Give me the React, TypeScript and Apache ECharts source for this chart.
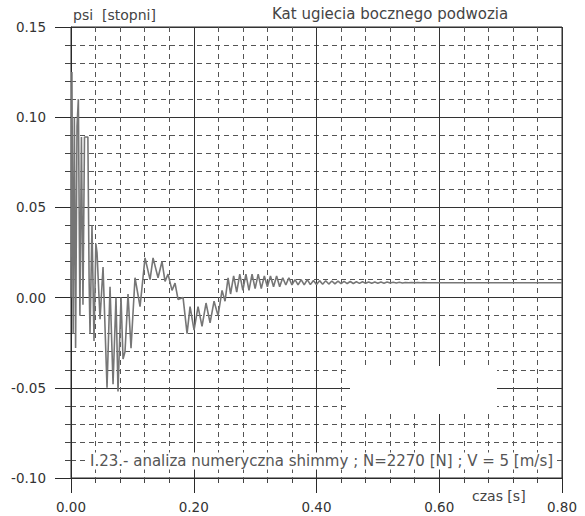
import React, { useEffect, useRef } from "react";
import * as echarts from "echarts";

const xTicks = [0, 0.2, 0.4, 0.6, 0.8];
const yTicks = [-0.1, -0.05, 0, 0.05, 0.1, 0.15];

const timeS = [
  0.0, 0.0015, 0.0035, 0.0055, 0.0075, 0.0098, 0.012, 0.0145, 0.017, 0.0195,
  0.022, 0.0275, 0.0295, 0.031, 0.0342, 0.0375, 0.0405, 0.0424, 0.0473, 0.0522,
  0.0587, 0.0636, 0.0685, 0.0733, 0.0766, 0.0815, 0.0848, 0.088, 0.0929, 0.0978,
  0.1043, 0.1125, 0.1206, 0.1288, 0.1337, 0.1418, 0.1483, 0.1532, 0.1581, 0.1646,
  0.1695, 0.1744, 0.1826, 0.1891, 0.194, 0.2005, 0.207, 0.2135, 0.22, 0.2266,
  0.2331, 0.2396, 0.2461, 0.251, 0.2559,
  0.26, 0.265, 0.27, 0.275, 0.28, 0.285, 0.29, 0.295, 0.3, 0.305,
  0.31, 0.315, 0.32, 0.325, 0.33, 0.335, 0.34, 0.345, 0.35, 0.355,
  0.36, 0.365, 0.37, 0.375, 0.38, 0.385, 0.39, 0.395, 0.4, 0.405,
  0.41, 0.415, 0.42, 0.425, 0.43, 0.435, 0.44, 0.445, 0.45, 0.455,
  0.46, 0.465, 0.47, 0.475, 0.48, 0.485, 0.49, 0.495, 0.5, 0.505,
  0.51, 0.515, 0.52, 0.525, 0.53, 0.535, 0.54, 0.545, 0.55, 0.555,
  0.56, 0.565, 0.57, 0.575, 0.58, 0.6, 0.8,
];

const psiDeg = [
  0.0, 0.125, -0.02, 0.1, -0.028, 0.095, 0.11, -0.01, 0.089, -0.004,
  0.089, 0.089, 0.01, -0.02, 0.04, -0.024, 0.03, 0.025, -0.012, 0.017,
  -0.05, 0.006, -0.048, 0.0, -0.052, 0.0, -0.034, -0.03, 0.002, -0.028,
  0.011, -0.005, 0.022, 0.01, 0.022, 0.011, 0.02, 0.009, 0.013, 0.004,
  0.008, -0.001, 0.0, -0.02, -0.005, -0.018, -0.005, -0.016, -0.003, -0.014,
  -0.002, -0.01, 0.004, -0.002, 0.011,
  0.002, 0.012, 0.003, 0.013, 0.004, 0.013, 0.004, 0.013, 0.005, 0.013,
  0.005, 0.012, 0.006, 0.012, 0.006, 0.012, 0.006, 0.011, 0.007, 0.011,
  0.007, 0.01, 0.007, 0.01, 0.007, 0.01, 0.0072, 0.0095, 0.0073, 0.0094,
  0.0074, 0.0093, 0.0075, 0.0092, 0.0076, 0.0091, 0.0077, 0.009, 0.0078, 0.0089,
  0.0078, 0.0088, 0.0079, 0.0088, 0.0079, 0.0087, 0.008, 0.0087, 0.008, 0.0086,
  0.008, 0.0086, 0.0081, 0.0085, 0.0081, 0.0085, 0.0081, 0.0084, 0.0082, 0.0084,
  0.0082, 0.0083, 0.0082, 0.0083, 0.0082, 0.0082, 0.0082,
];

const yAxisTitle = "psi  [stopni]";
const chartTitle = "Kat ugiecia bocznego podwozia";
const xAxisTitle = "czas [s]";
const note = "I.23.- analiza numeryczna shimmy ; N=2270 [N] ; V = 5 [m/s]";

export default function App() {
  const ref = useRef<HTMLDivElement>(null);
  useEffect(() => {
    if (!ref.current) return;
    const chart = echarts.init(ref.current, undefined, { renderer: "svg" });
    const font = "DejaVu Sans";
    chart.setOption({
      animation: false,
      backgroundColor: "#ffffff",
      grid: {
        left: 71,
        right: 23,
        top: 27,
        bottom: 38,
        show: true,
        borderColor: "#2a2a2a",
        borderWidth: 1,
      },
      xAxis: {
        type: "value",
        min: xTicks[0],
        max: xTicks[xTicks.length - 1],
        interval: xTicks[1] - xTicks[0],
        axisLine: { show: true, onZero: false, lineStyle: { color: "#2a2a2a", width: 1 } },
        axisTick: { show: true, length: 15, lineStyle: { color: "#2a2a2a" } },
        minorTick: { show: true, splitNumber: 5, length: 5, lineStyle: { color: "#444" } },
        axisLabel: {
          margin: 22,
          color: "#333",
          fontFamily: font,
          fontSize: 13.5,
          formatter: (v: number) => v.toFixed(2),
        },
        splitLine: { show: true, lineStyle: { color: "#333", width: 1 } },
        minorSplitLine: { show: true, lineStyle: { color: "#555", width: 1, type: [5, 4] } },
      },
      yAxis: {
        type: "value",
        min: yTicks[0],
        max: yTicks[yTicks.length - 1],
        interval: yTicks[1] - yTicks[0],
        axisLine: { show: true, onZero: false, lineStyle: { color: "#2a2a2a", width: 1 } },
        axisTick: { show: true, length: 16, lineStyle: { color: "#2a2a2a" } },
        minorTick: { show: true, splitNumber: 5, length: 6, lineStyle: { color: "#444" } },
        axisLabel: {
          margin: 25,
          color: "#333",
          fontFamily: font,
          fontSize: 13.5,
          formatter: (v: number) => v.toFixed(2),
        },
        splitLine: { show: true, lineStyle: { color: "#333", width: 1 } },
        minorSplitLine: { show: true, lineStyle: { color: "#555", width: 1, type: [5, 4] } },
      },
      series: [
        {
          type: "line",
          data: timeS.map((t, i) => [t, psiDeg[i]]),
          showSymbol: false,
          symbol: "none",
          z: 3,
          lineStyle: { color: "#767676", width: 1.6 },
        },
      ],
      graphic: [
        {
          type: "rect",
          z: 50,
          shape: { x: 350, y: 366, width: 147, height: 48 },
          style: { fill: "#ffffff" },
        },
        {
          type: "text",
          z: 60,
          x: 73,
          y: 15,
          style: {
            text: yAxisTitle,
            fontFamily: font,
            fontSize: 14,
            fill: "#444",
            verticalAlign: "middle",
          },
        },
        {
          type: "text",
          z: 60,
          x: 272,
          y: 14,
          style: {
            text: chartTitle,
            fontFamily: font,
            fontSize: 15,
            fill: "#444",
            verticalAlign: "middle",
          },
        },
        {
          type: "text",
          z: 60,
          x: 472,
          y: 496,
          style: {
            text: xAxisTitle,
            fontFamily: font,
            fontSize: 14,
            fill: "#444",
            verticalAlign: "middle",
          },
        },
        {
          type: "text",
          z: 60,
          x: 88,
          y: 461,
          style: {
            text: note,
            fontFamily: font,
            fontSize: 15,
            fill: "#555",
            verticalAlign: "middle",
            backgroundColor: "#ffffff",
            padding: [1, 2],
          },
        },
      ],
    });
    return () => chart.dispose();
  }, []);
  return (
    <div
      ref={ref}
      style={{ position: "fixed", left: 0, top: 0, width: 585, height: 516 }}
    />
  );
}
